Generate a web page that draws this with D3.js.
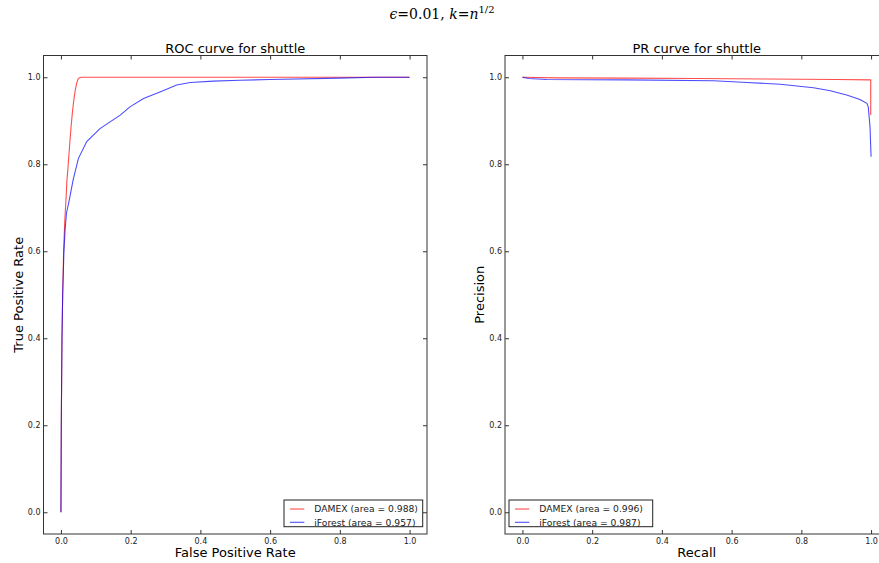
<!DOCTYPE html>
<html><head><meta charset="utf-8">
<script src="https://cdn.jsdelivr.net/npm/d3@7"></script>
<style>body{margin:0;background:#fff}svg{display:block}</style>
</head><body>
<svg id="c" width="879" height="563"></svg>
<script>
// ---- data ----
const ticks = [0.0, 0.2, 0.4, 0.6, 0.8, 1.0];
const rocDamexFpr = [0, 0.001, 0.002, 0.003, 0.005, 0.0077, 0.011, 0.0144, 0.017, 0.021, 0.025, 0.029, 0.033, 0.037, 0.041, 0.045, 0.049, 0.053, 0.06, 0.2, 0.5, 1.0];
const rocDamexTpr = [0, 0.2, 0.3, 0.4, 0.5, 0.6, 0.67, 0.718, 0.76, 0.8, 0.845, 0.885, 0.92, 0.948, 0.97, 0.986, 0.996, 0.999, 1.0, 1.0, 1.0, 1.0];
const rocIfFpr = [0, 0.001, 0.002, 0.003, 0.005, 0.0086, 0.012, 0.016, 0.024, 0.035, 0.05, 0.074, 0.112, 0.17, 0.198, 0.237, 0.284, 0.332, 0.371, 0.437, 0.514, 0.6, 0.8, 0.9, 1.0];
const rocIfTpr = [0, 0.2, 0.3, 0.4, 0.5, 0.6, 0.65, 0.688, 0.718, 0.764, 0.813, 0.852, 0.882, 0.913, 0.932, 0.951, 0.966, 0.982, 0.988, 0.991, 0.993, 0.995, 0.998, 1.0, 1.0];
const prDamexRec = [0, 0.1, 0.3, 0.5, 0.7, 0.9, 0.997, 0.999, 0.999];
const prDamexPrec = [1.0, 0.9985, 0.998, 0.997, 0.996, 0.995, 0.994, 0.994, 0.913];
const prIfRec = [0, 0.018, 0.07, 0.3, 0.548, 0.644, 0.739, 0.835, 0.883, 0.93, 0.968, 0.988, 0.992, 0.997, 1.0];
const prIfPrec = [1.0, 0.997, 0.995, 0.994, 0.992, 0.988, 0.984, 0.976, 0.969, 0.959, 0.949, 0.94, 0.932, 0.886, 0.817];
const rocLegend = ["DAMEX (area = 0.988)", "iForest (area = 0.957)"];
const prLegend = ["DAMEX (area = 0.996)", "iForest (area = 0.987)"];

const svg = d3.select("#c");
const font = "'DejaVu Sans', sans-serif";
const RED = "rgba(255,0,0,0.7)", BLUE = "rgba(0,0,255,0.7)";

// super title
const st = svg.append("text").attr("x", 442).attr("y", 19).attr("text-anchor", "middle")
  .attr("font-family", "'DejaVu Serif', 'Liberation Serif', serif").attr("font-size", 14);
st.append("tspan").attr("font-style", "italic").text("\u03F5");
st.append("tspan").text("=0.01, ");
st.append("tspan").attr("font-style", "italic").text("k");
st.append("tspan").text("=");
st.append("tspan").attr("font-style", "italic").text("n");
st.append("tspan").attr("font-size", 10).attr("dy", -6).text("1/2");

function panel(x0, x1, title, xlabel, ylabel, series, legendTexts, legendPos) {
  const y0 = 55.5, y1 = 534;
  const x = d3.scaleLinear().domain([-0.05, 1.05]).range([x0, x1]);
  const y = d3.scaleLinear().domain([-0.05, 1.05]).range([y1, y0]);
  const g = svg.append("g");
  const id = "clip" + Math.round(x0);
  g.append("clipPath").attr("id", id).append("rect")
    .attr("x", x0).attr("y", y0).attr("width", x1 - x0).attr("height", y1 - y0);

  const line = d3.line().x(d => x(d[0])).y(d => y(d[1]));
  series.forEach(s => {
    g.append("path").attr("clip-path", `url(#${id})`)
      .datum(d3.zip(s.xs, s.ys)).attr("d", line)
      .attr("fill", "none").attr("stroke", s.color).attr("stroke-width", 1.1);
  });

  const tl = 4;
  const ax = d3.axisBottom(x).tickValues(ticks).tickFormat(d3.format(".1f")).tickSizeInner(-tl).tickSizeOuter(0).tickPadding(4);
  const axB = g.append("g").attr("transform", `translate(0,${y1})`).call(ax);
  const axT = g.append("g").attr("transform", `translate(0,${y0})`).call(d3.axisTop(x).tickValues(ticks).tickFormat("").tickSizeInner(-tl).tickSizeOuter(0));
  const ay = d3.axisLeft(y).tickValues(ticks).tickFormat(d3.format(".1f")).tickSizeInner(-tl).tickSizeOuter(0).tickPadding(3);
  const axL = g.append("g").attr("transform", `translate(${x0},0)`).call(ay);
  const axR = g.append("g").attr("transform", `translate(${x1},0)`).call(d3.axisRight(y).tickValues(ticks).tickFormat("").tickSizeInner(-tl).tickSizeOuter(0));
  [axB, axT, axL, axR].forEach(a => {
    a.select(".domain").remove();
    a.selectAll("line").attr("stroke", "#333");
    a.selectAll("text").attr("font-family", font).attr("font-size", 8).attr("fill", "#222");
  });

  g.append("rect").attr("x", x0).attr("y", y0).attr("width", x1 - x0).attr("height", y1 - y0)
    .attr("fill", "none").attr("stroke", "#333").attr("stroke-width", 1);

  g.append("text").attr("x", (x0 + x1) / 2).attr("y", 53).attr("text-anchor", "middle")
    .attr("font-family", font).attr("font-size", 13).text(title);
  g.append("text").attr("x", (x0 + x1) / 2).attr("y", 557).attr("text-anchor", "middle")
    .attr("font-family", font).attr("font-size", 13).text(xlabel);
  g.append("text").attr("transform", `translate(${x0 - 21},${(y0 + y1) / 2}) rotate(-90)`)
    .attr("text-anchor", "middle").attr("font-family", font).attr("font-size", 13).text(ylabel);

  const lg = g.append("g");
  lg.append("rect").attr("x", legendPos.x).attr("y", 500).attr("width", legendPos.w).attr("height", 26.7)
    .attr("fill", "#fff").attr("stroke", "#222").attr("stroke-width", 1);
  legendTexts.forEach((t, i) => {
    const yy = 509 + i * 13.3;
    lg.append("line").attr("x1", legendPos.x + 6).attr("x2", legendPos.x + 20.3).attr("y1", yy).attr("y2", yy)
      .attr("stroke", series[i].color).attr("stroke-width", 1.1);
    lg.append("text").attr("x", legendPos.x + 30.3).attr("y", yy + 3.3)
      .attr("font-family", font).attr("font-size", 9.2).attr("fill", "#222").text(t);
  });
}

panel(43.5, 427, "ROC curve for shuttle", "False Positive Rate", "True Positive Rate",
  [{xs: rocDamexFpr, ys: rocDamexTpr, color: RED}, {xs: rocIfFpr, ys: rocIfTpr, color: BLUE}],
  rocLegend, {x: 284, w: 138.7});
panel(505, 888.5, "PR curve for shuttle", "Recall", "Precision",
  [{xs: prDamexRec, ys: prDamexPrec, color: RED}, {xs: prIfRec, ys: prIfPrec, color: BLUE}],
  prLegend, {x: 509, w: 143.7});
</script>
</body></html>
